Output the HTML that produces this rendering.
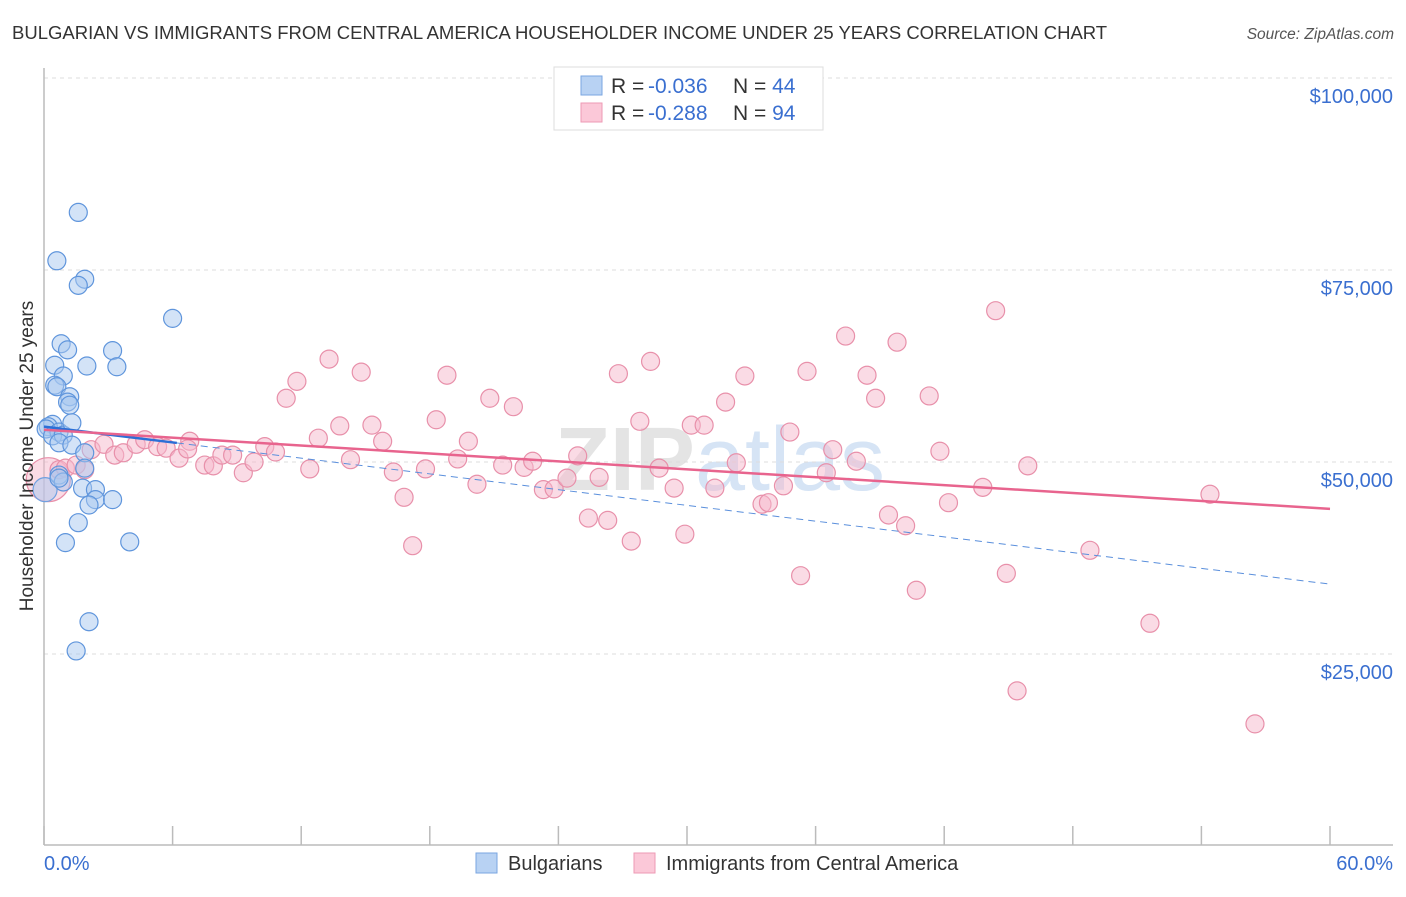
<!DOCTYPE html>
<html><head><meta charset="utf-8"><style>
body{margin:0;background:#fff;font-family:"Liberation Sans",sans-serif;}
svg text{font-family:"Liberation Sans",sans-serif;}
</style></head><body>
<svg id="chart" width="1406" height="892">
<text x="12" y="39" font-size="18.5" fill="#333">BULGARIAN VS IMMIGRANTS FROM CENTRAL AMERICA HOUSEHOLDER INCOME UNDER 25 YEARS CORRELATION CHART</text>
<text x="1394" y="39" font-size="15.5" fill="#555" font-style="italic" text-anchor="end">Source: ZipAtlas.com</text>
<text x="720" y="490" font-size="90" fill="#e4e4e4" text-anchor="middle" font-weight="bold">ZIP<tspan fill="#d6e4f5" font-weight="normal">atlas</tspan></text>
<g id="grid"></g>
<g id="axes"></g>
<g id="marks"></g>
<g id="trends"></g>
<text transform="translate(33,456) rotate(-90)" font-size="19" fill="#333" text-anchor="middle">Householder Income Under 25 years</text>
<text x="44" y="870" font-size="20" fill="#3a6fd0">0.0%</text>
<text x="1393" y="870" font-size="20" fill="#3a6fd0" text-anchor="end">60.0%</text>
<g>
<rect x="554" y="67" width="269" height="63" fill="#fff" stroke="#ddd"/>
<rect x="581" y="76" width="21" height="19" fill="#b8d2f3" stroke="#7aa6e0"/>
<rect x="581" y="103" width="21" height="19" fill="#fbc8d8" stroke="#ee9ab4"/>
<text x="611" y="93" font-size="21" fill="#333">R = <tspan fill="#3a6fd0" x="648">-0.036</tspan><tspan x="733">N = </tspan><tspan fill="#3a6fd0">44</tspan></text>
<text x="611" y="120" font-size="21" fill="#333">R = <tspan fill="#3a6fd0" x="648">-0.288</tspan><tspan x="733">N = </tspan><tspan fill="#3a6fd0">94</tspan></text>
</g>
<g>
<rect x="476" y="853" width="21" height="20" fill="#b8d2f3" stroke="#7aa6e0"/>
<text x="508" y="870" font-size="20" fill="#333">Bulgarians</text>
<rect x="634" y="853" width="21" height="20" fill="#fbc8d8" stroke="#ee9ab4"/>
<text x="666" y="870" font-size="20" fill="#333">Immigrants from Central America</text>
</g>
</svg>
<script>
const blueX=[1.6,0.6,1.9,1.6,6.0,0.8,1.1,3.2,3.4,0.5,2.0,0.9,0.5,0.6,1.2,1.1,1.2,0.4,0.2,0.1,0.7,0.4,0.9,1.3,0.7,1.3,1.9,1.9,0.7,0.9,0.7,1.8,2.4,2.4,3.2,2.1,1.6,1.0,4.0,2.1,1.5];
const blueY=[82.5,76.2,73.8,73.0,68.7,65.4,64.6,64.5,62.4,62.6,62.5,61.2,60.0,59.8,58.5,57.8,57.4,54.9,54.6,54.3,53.9,53.4,53.5,55.1,52.5,52.2,51.2,49.2,48.3,47.4,47.9,46.6,46.4,45.1,45.1,44.4,42.1,39.5,39.6,29.2,25.4];
const pinkX=[0.7,1.0,1.5,1.9,2.2,2.8,3.3,3.7,4.3,4.7,5.3,5.7,6.3,6.8,6.7,7.5,7.9,8.3,8.8,9.3,9.8,10.3,10.8,11.3,11.8,12.4,12.8,13.3,13.8,14.3,14.8,15.3,15.8,16.3,16.8,17.2,17.8,18.3,18.8,19.3,19.8,20.2,20.8,21.4,21.9,22.4,22.8,23.3,23.8,24.4,24.9,25.4,25.9,26.3,26.8,27.4,27.8,28.3,28.7,29.4,29.9,30.2,30.8,31.3,31.8,32.3,32.7,33.5,33.8,34.5,34.8,35.3,35.6,36.5,36.8,37.4,37.9,38.4,38.8,39.4,39.8,40.2,40.7,41.3,41.8,42.2,43.8,44.4,44.9,45.4,45.9,48.8,51.6,54.4,56.5];
const pinkY=[49.0,49.2,49.6,49.0,51.6,52.3,50.9,51.2,52.3,52.9,52.0,51.8,50.5,52.7,51.7,49.6,49.5,50.9,50.9,48.6,50.0,52.0,51.3,58.3,60.5,49.1,53.1,63.4,54.7,50.3,61.7,54.8,52.7,48.7,45.4,39.1,49.1,55.5,61.3,50.4,52.7,47.1,58.3,49.6,57.2,49.3,50.1,46.4,46.5,47.9,50.8,42.7,48.0,42.4,61.5,39.7,55.3,63.1,49.2,46.6,40.6,54.8,54.8,46.6,57.8,49.9,61.2,44.5,44.7,46.9,53.9,35.2,61.8,48.6,51.6,66.4,50.1,61.3,58.3,43.1,65.6,41.7,33.3,58.6,51.4,44.7,46.7,69.7,35.5,20.2,49.5,38.5,29.0,45.8,15.9];
const yTicks=[25,50,75,100];
const yTickLabels=["$25,000","$50,000","$75,000","$100,000"];
const blueTrend=[54.6,34.1];
const pinkTrend=[54.2,43.9];
const blueSolidEnd=6.2;

const NS="http://www.w3.org/2000/svg";
const X0=44,X1=1330;
function sx(v){return X0+(v/60)*(X1-X0);}
function sy(v){return 654-(v-25)/25*192;}
function mk(tag,attrs,parent){const e=document.createElementNS(NS,tag);for(const k in attrs)e.setAttribute(k,attrs[k]);parent.appendChild(e);return e;}
const grid=document.getElementById('grid'),axes=document.getElementById('axes'),marks=document.getElementById('marks'),trends=document.getElementById('trends');
yTicks.forEach((t,i)=>{
  const l=mk('line',{x1:X0,x2:1393,y1:sy(t),y2:sy(t),stroke:'#ddd','stroke-dasharray':'4,4'},grid);
  
  
  const tx=mk('text',{x:1393,y:sy(t)+25,'font-size':20,fill:'#3a6fd0','text-anchor':'end'},grid);
  tx.textContent=yTickLabels[i];
  
  
});
const ya=mk('line',{x1:X0,x2:X0,y1:68,y2:845,stroke:'#bbb','stroke-width':1.5},axes);


const xa=mk('line',{x1:X0,x2:1393,y1:845,y2:845,stroke:'#bbb','stroke-width':1.5},axes);


for(let i=0;i<=10;i++){
  const t=mk('line',{x1:sx(i*6),x2:sx(i*6),y1:826,y2:845,stroke:'#bbb','stroke-width':1.5},axes);
  
  
}
function dot(x,y,r,fill,stroke,name){
  const c=mk('circle',{cx:sx(x),cy:sy(y),r:r,fill:fill,'fill-opacity':0.5,stroke:stroke,'stroke-width':1.2},marks);
  
  
}
dot(0.2,47.7,22,'#f5b8cc','#e890aa','pink-point');
dot(0.05,46.4,12,'#a8c8f0','#6fa0e0','blue-point');
pinkX.forEach((x,i)=>dot(x,pinkY[i],9,'#f5b8cc','#e890aa','pink-point'));
blueX.forEach((x,i)=>dot(x,blueY[i],9,'#a8c8f0','#5f95dc','blue-point'));
function ty(tr,x){return tr[0]+(tr[1]-tr[0])*x/60;}
const bs=mk('line',{x1:sx(0),y1:sy(ty(blueTrend,0)),x2:sx(blueSolidEnd),y2:sy(ty(blueTrend,blueSolidEnd)),stroke:'#2c6fd6','stroke-width':2.5},trends);


const bd=mk('line',{x1:sx(blueSolidEnd),y1:sy(ty(blueTrend,blueSolidEnd)),x2:sx(60),y2:sy(ty(blueTrend,60)),stroke:'#5a8fdc','stroke-width':1,'stroke-dasharray':'7,5'},trends);


const pl=mk('line',{x1:sx(0),y1:sy(pinkTrend[0]),x2:sx(60),y2:sy(pinkTrend[1]),stroke:'#e8648e','stroke-width':2.5},trends);


</script>
</body></html>
